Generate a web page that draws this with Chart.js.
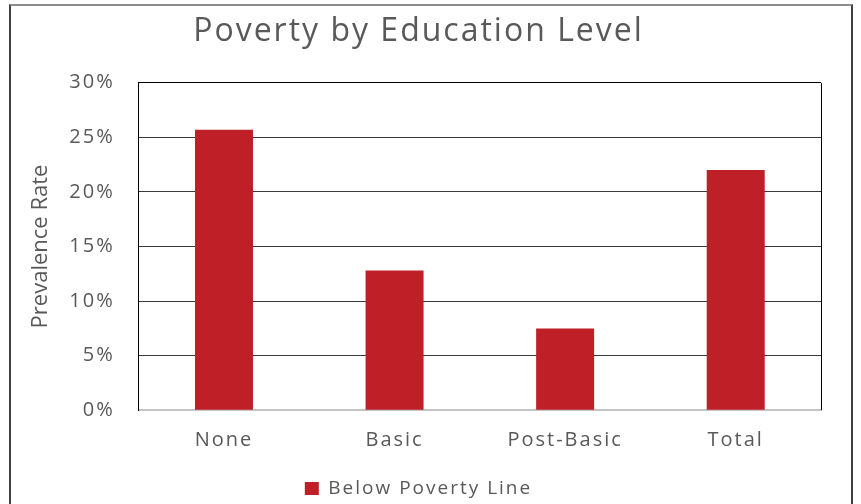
<!DOCTYPE html>
<html>
<head>
<meta charset="utf-8">
<script src="https://cdn.jsdelivr.net/npm/chart.js@4.4.1/dist/chart.umd.min.js"></script>
<style>
  html, body { margin: 0; padding: 0; background: #fff; overflow: hidden; width: 861px; height: 504px; }
  #wrap { position: relative; width: 861px; height: 504px; }
  canvas { position: absolute; left: 0; top: 0; }
  #frame {
    position: absolute; left: 9px; top: 4px; width: 844px; height: 560px;
    box-sizing: border-box; border: 2px solid #404040; border-top-color: #8c8c8c;
    pointer-events: none;
  }
</style>
</head>
<body>
<div id="wrap">
  <canvas id="chart" width="861" height="504"></canvas>
  <div id="frame"></div>
</div>
<script>
// Poverty prevalence (%) by education level
const categories = ['None', 'Basic', 'Post-Basic', 'Total'];
const belowPovertyLine = [25.7, 12.8, 7.5, 22.0];
const yTickValues = [0, 5, 10, 15, 20, 25, 30];
const seriesName = 'Below Poverty Line';
const chartTitle = 'Poverty by Education Level';
const yAxisTitle = 'Prevalence Rate';

const TEXT = '#595959';
const BAR = '#BF1F27';
const FONT = "'Open Sans', 'Noto Sans', sans-serif";

// Wide lettering for the chart text
const textSpacing = {
  id: 'textSpacing',
  beforeUpdate(chart) { chart.ctx.letterSpacing = '2px'; },
  beforeDraw(chart) { chart.ctx.letterSpacing = '2px'; }
};

// Right-hand edge of the plot frame
const plotFrame = {
  id: 'plotFrame',
  beforeDatasetsDraw(chart) {
    const { ctx, chartArea: a } = chart;
    const x = Math.round(a.right) + 0.5;
    ctx.save();
    ctx.strokeStyle = '#000';
    ctx.lineWidth = 1;
    ctx.beginPath();
    ctx.moveTo(x, Math.round(a.top));
    ctx.lineTo(x, Math.round(a.bottom));
    ctx.stroke();
    ctx.restore();
  }
};

new Chart(document.getElementById('chart'), {
  type: 'bar',
  data: {
    labels: categories,
    datasets: [{
      label: seriesName,
      data: belowPovertyLine,
      backgroundColor: BAR,
      borderWidth: 0,
      barPercentage: 0.34,
      categoryPercentage: 1.0
    }]
  },
  options: {
    responsive: false,
    animation: false,
    devicePixelRatio: 1,
    layout: { padding: { left: 16, right: 40, top: 0, bottom: -4 } },
    plugins: {
      tooltip: { enabled: false },
      title: {
        display: true,
        text: chartTitle,
        color: TEXT,
        font: { family: FONT, size: 32, weight: 'normal' },
        padding: { top: 13, bottom: 31.3 }
      },
      legend: {
        position: 'bottom',
        labels: {
          color: TEXT,
          font: { family: FONT, size: 19 },
          boxWidth: 14,
          boxHeight: 13,
          padding: 10
        }
      }
    },
    scales: {
      x: {
        grid: { display: false, drawTicks: false },
        border: { display: true, color: '#c4c4c4', width: 2 },
        ticks: { color: TEXT, font: { family: FONT, size: 20 }, padding: 18 },
        afterFit(scale) { scale.height = 58.7; }
      },
      y: {
        min: 0,
        max: 30,
        afterBuildTicks(scale) { scale.ticks = yTickValues.map(v => ({ value: v })); },
        grid: {
          drawTicks: false,
          color: (c) => c.tick && c.tick.value === 0 ? 'rgba(0,0,0,0)' : (c.tick && c.tick.value === 30 ? '#000' : '#3a3a3a'),
          lineWidth: 1
        },
        border: { display: true, color: '#000', width: 1 },
        ticks: {
          color: TEXT,
          font: { family: FONT, size: 20 },
          padding: 24,
          callback: (v) => v + '%'
        },
        title: {
          display: true,
          text: yAxisTitle,
          color: TEXT,
          font: { family: FONT, size: 22 },
          padding: { top: 11.5, bottom: 0 }
        },
        afterFit(scale) {
          scale.width = 122.7;
          // the axis title is set without the extra letter spacing
          if (!scale._plainTitle) {
            const drawTitle = scale.drawTitle;
            scale.drawTitle = function () {
              const prev = this.ctx.letterSpacing;
              this.ctx.letterSpacing = '0px';
              drawTitle.call(this);
              this.ctx.letterSpacing = prev;
            };
            scale._plainTitle = true;
          }
        }
      }
    }
  },
  plugins: [textSpacing, plotFrame]
});
</script>
</body>
</html>
